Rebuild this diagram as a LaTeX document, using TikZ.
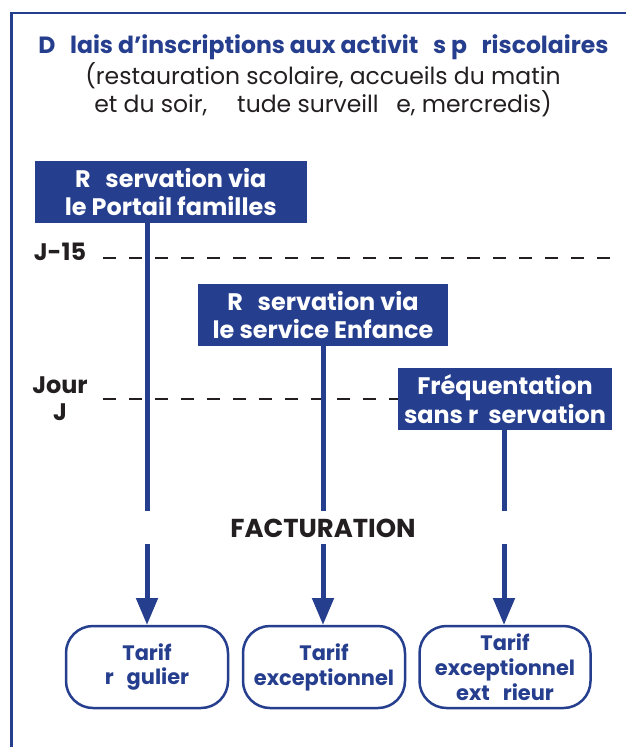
\documentclass[tikz,border=0pt]{standalone}
\usepackage{fontspec}
\setmainfont{Poppins}
\usetikzlibrary{arrows.meta}
\definecolor{bleu}{HTML}{263E8E}
\definecolor{noir}{HTML}{231F20}
\newcommand{\gap}{\hspace{0.62em}}
\tikzset{
  x=1bp,y=-1bp,
  titre/.style={text=bleu,font=\fontsize{23.6}{28}\selectfont\bfseries,inner sep=0pt,anchor=center},
  soustitre/.style={text=noir,align=center,font=\fontsize{23.6}{28}\selectfont,inner sep=0pt},
  bloc/.style={fill=bleu,text=white,align=center,font=\fontsize{24}{28.5}\selectfont\bfseries,inner sep=0pt},
  tarif/.style={draw=bleu,line width=2.5bp,rounded corners=27bp,fill=white,text=bleu,align=center,font=\fontsize{21}{25}\selectfont\bfseries,inner sep=0pt},
  repere/.style={text=noir,align=center,font=\fontsize{24}{27}\selectfont\bfseries,inner sep=0pt},
  facture/.style={text=noir,font=\fontsize{26}{28}\selectfont\bfseries,inner sep=0pt},
  fleche/.style={draw=bleu,line width=5bp},
  pointe/.style={fleche,-{Triangle[length=27bp,width=21bp]}},
  tirets/.style={draw=noir,line width=2.3bp,dash pattern=on 13bp off 13bp},
  cadre/.style={draw=bleu,line width=2.6bp}
}
\begin{document}
\begin{tikzpicture}
\useasboundingbox (0,0) rectangle (626,747);
\coordinate (c0) at (11.5,747);
\coordinate (c1) at (11.5,13);
\coordinate (c2) at (626,13);
\draw[cadre] (c0) -- (c1) -- (c2);
\node[titre] (t) at (323.5,47.5) {D\gap lais d’inscriptions aux activit\gap s p\gap riscolaires};
\node[soustitre] (st) at (323,90) {(restauration scolaire, accueils du matin\\et du soir, \hspace{1em}tude surveill\hspace{0.75em}e, mercredis)};
% dashed
\coordinate (d1a) at (103,258); \coordinate (d1b) at (612,258);
\coordinate (d2a) at (103,399);
\draw[tirets] (d1a) -- (d1b);
\node[repere] (j15) at (60,252) {J-15};
\node[repere] (jj) at (60,399) {Jour\\J};
% nodes
\node[bloc,minimum width=271.5bp,minimum height=61.5bp] (r1) at (170.75,192) {R\gap servation via\\le Portail familles};
\node[bloc,minimum width=250bp,minimum height=62bp] (r2) at (323,315) {R\gap servation via\\le service Enfance};
\node[bloc,minimum width=214bp,minimum height=62bp] (r3) at (505,399) {Fréquentation\\sans r\hspace{0.42em}servation};
\draw[tirets] (d2a) -- (r3.west |- d2a);
\node[tarif,minimum width=162bp,minimum height=82bp] (t1) at (147,667) {\raisebox{-1.5bp}{Tarif}\\\raisebox{-1.5bp}{r\gap gulier}};
\node[tarif,minimum width=162bp,minimum height=82bp] (t2) at (324,667) {Tarif\\exceptionnel};
\node[tarif,minimum width=171bp,minimum height=82bp] (t3) at (505,667) {Tarif\\exceptionnel\\ext\gap rieur};
\node[facture] (fact) at (323,528.5) {FACTURATION};
\coordinate (u1) at (147,511); \coordinate (l1) at (147,544);
\coordinate (u2) at (323,511); \coordinate (l2) at (323,544);
\coordinate (u3) at (504,511); \coordinate (l3) at (504,544);
\coordinate (e1) at (147,625); \coordinate (e2) at (323,625); \coordinate (e3) at (504,625);
\draw[fleche] (u1 |- r1.south) -- (u1);
\draw[fleche] (u2 |- r2.south) -- (u2);
\draw[fleche] (u3 |- r3.south) -- (u3);
\draw[pointe] (l1) -- (e1);
\draw[pointe] (l2) -- (e2);
\draw[pointe] (l3) -- (e3);
\end{tikzpicture}
\end{document}
